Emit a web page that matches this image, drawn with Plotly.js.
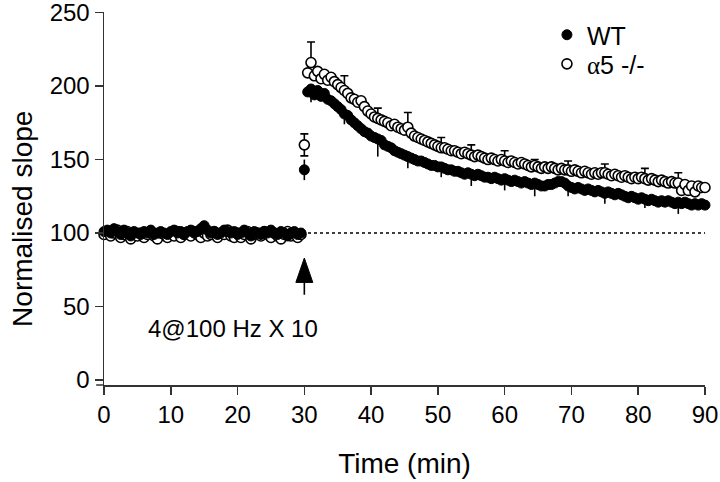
<!DOCTYPE html>
<html>
<head>
<meta charset="utf-8">
<script src="https://cdn.plot.ly/plotly-3.0.1.min.js"></script>
<style>html,body{margin:0;padding:0;background:#fff;}#chart{width:720px;height:482px;}</style>
</head>
<body>
<div id="chart"></div>
<script>
// Time points (min)
var timeMin = [
0,0.5,1,1.5,2,2.5,3,3.5,4,4.5,
5,5.5,6,6.5,7,7.5,8,8.5,9,9.5,
10,10.5,11,11.5,12,12.5,13,13.5,14,14.5,
15,15.5,16,16.5,17,17.5,18,18.5,19,19.5,
20,20.5,21,21.5,22,22.5,23,23.5,24,24.5,
25,25.5,26,26.5,27,27.5,28,28.5,29,29.5,
30,30.5,31,31.5,32,32.5,33,33.5,34,34.5,
35,35.5,36,36.5,37,37.5,38,38.5,39,39.5,
40,40.5,41,41.5,42,42.5,43,43.5,44,44.5,
45,45.5,46,46.5,47,47.5,48,48.5,49,49.5,
50,50.5,51,51.5,52,52.5,53,53.5,54,54.5,
55,55.5,56,56.5,57,57.5,58,58.5,59,59.5,
60,60.5,61,61.5,62,62.5,63,63.5,64,64.5,
65,65.5,66,66.5,67,67.5,68,68.5,69,69.5,
70,70.5,71,71.5,72,72.5,73,73.5,74,74.5,
75,75.5,76,76.5,77,77.5,78,78.5,79,79.5,
80,80.5,81,81.5,82,82.5,83,83.5,84,84.5,
85,85.5,86,86.5,87,87.5,88,88.5,89,89.5,
90];

// WT normalised slope (%)
var wtSlope = [
101,102,100,103,101,99,102,100,98,101,
100,99,101,100,102,99,100,101,100,99,
101,102,100,101,99,101,102,100,101,103,
105,102,100,101,99,100,102,101,100,101,
99,100,102,100,98,101,100,99,101,100,
102,100,99,101,100,98,100,101,99,100,
143,196,198,194,197,193,195,191,190,188,
186,184,181,180,177,175,173,171,169,168,
166,165,164,163,160,159,158,156,155,154,
153,152,151,150,149,149,148,147,146,146,
145,145,144,143,143,142,142,141,140,141,
140,139,140,139,138,138,137,138,137,136,
137,136,135,136,135,134,135,134,133,134,
133,132,132,133,133,134,135,135,134,132,
131,130,131,130,129,130,129,128,129,128,
127,128,127,126,127,126,125,124,125,124,
123,124,123,122,123,122,121,122,121,122,
121,120,121,120,121,120,119,120,119,120,
119];

// alpha5 -/- normalised slope (%)
var a5Slope = [
99,101,98,100,102,97,99,101,96,100,
98,100,97,99,101,98,96,100,99,97,
100,98,101,97,99,100,98,101,99,97,
100,98,99,101,97,100,99,102,98,97,
100,97,99,101,96,99,100,98,101,99,
97,100,98,96,99,101,98,100,97,99,
160,209,216,207,210,205,208,204,206,203,
201,199,197,195,192,191,189,190,186,183,
181,179,178,177,176,175,173,174,172,171,
170,172,168,166,165,164,163,162,161,160,
159,158,158,157,156,156,155,154,155,154,
153,152,153,152,151,150,151,150,149,150,
149,148,149,148,147,148,147,146,145,146,
145,144,145,144,145,144,143,144,143,143,
142,143,142,141,142,141,140,141,140,141,
141,140,139,140,139,138,139,138,137,138,
137,138,137,136,137,136,135,136,135,134,
135,134,134,129,133,129,132,128,132,131,
131];

// SEM shown at selected time points
var semTimes = [30,31,36,41,45.5,50.5,55,60,64.5,69.5,75,81,86];
var semA5   = [7.5,14,10,7,10,7,7,7,4,6,6,7,7];
var semWT   = [7,9,7,12,8,7,8,8,9,7,7,6,8];

var seriesNames = ['WT', '<span style="font-family:Liberation Serif,Times New Roman,serif">\u03b1</span>5 -/-'];
var xTicks = [0,10,20,30,40,50,60,70,80,90];
var yTicks = [0,50,100,150,200,250];
var stimLabel = '4@100 Hz X 10';
var xTitle = 'Time (min)';
var yTitle = 'Normalised slope';
var stimTime = 30;

// build error arrays
function semAt(t, vals){ var k = semTimes.indexOf(t); return k < 0 ? null : vals[k]; }
var a5Plus = [], a5Minus = [], wtPlus = [], wtMinus = [];
timeMin.forEach(function(t){
  var sa = semAt(t, semA5), sw = semAt(t, semWT);
  if (sa === null) { a5Plus.push(NaN); a5Minus.push(NaN); }
  else { a5Plus.push(sa); a5Minus.push(t === stimTime ? sa : 0); }
  if (sw === null) { wtPlus.push(NaN); wtMinus.push(NaN); }
  else { wtMinus.push(sw); wtPlus.push(t === stimTime ? sw : 0); }
});

var FONT = 'Liberation Sans, Arial, Helvetica, sans-serif';

var traces = [
  {
    x: timeMin, y: a5Slope, name: seriesNames[1], type: 'scatter', mode: 'markers',
    cliponaxis: false, legend: 'legend2',
    marker: {symbol: 'circle', size: 10, color: '#ffffff', line: {color: '#000', width: 1.6}},
    error_y: {type: 'data', symmetric: false, array: a5Plus, arrayminus: a5Minus,
              color: '#000', thickness: 1.6, width: 4}
  },
  {
    x: timeMin, y: wtSlope, name: seriesNames[0], type: 'scatter', mode: 'markers',
    cliponaxis: false, legend: 'legend',
    marker: {symbol: 'circle', size: 10, color: '#000000', line: {color: '#000', width: 1}},
    error_y: {type: 'data', symmetric: false, array: wtPlus, arrayminus: wtMinus,
              color: '#000', thickness: 1.6, width: 0}
  }
];

var legendFont = {family: FONT, size: 25, color: '#000'};
var layout = {
  width: 720, height: 482,
  margin: {l: 104, r: 15, t: 12, b: 97},
  paper_bgcolor: '#fff', plot_bgcolor: '#fff',
  font: {family: FONT, color: '#000', size: 24},
  showlegend: true,
  legend: {x: 0.737, y: 1.0, xanchor: 'left', yanchor: 'top',
           font: legendFont, bgcolor: 'rgba(0,0,0,0)'},
  legend2: {x: 0.737, y: 0.922, xanchor: 'left', yanchor: 'top',
           font: legendFont, bgcolor: 'rgba(0,0,0,0)'},
  xaxis: {
    range: [0, 90], tickvals: xTicks, ticktext: xTicks.map(String),
    ticks: 'outside', ticklen: 8, tickwidth: 1.5, tickcolor: '#333',
    showline: true, linewidth: 1.5, linecolor: '#333',
    showgrid: false, zeroline: false, ticklabeloverflow: 'allow',
    tickfont: {family: FONT, size: 24, color: '#000'},
    title: {text: xTitle, font: {family: FONT, size: 28, color: '#000'}, standoff: 26}
  },
  yaxis: {
    range: [-3.4, 250.4], tickvals: yTicks, ticktext: yTicks.map(String),
    ticks: 'outside', ticklen: 8, tickwidth: 1.5, tickcolor: '#333',
    showline: true, linewidth: 1.5, linecolor: '#333',
    showgrid: false, zeroline: false, ticklabeloverflow: 'allow',
    tickfont: {family: FONT, size: 24, color: '#000'}
  },
  shapes: [
    {type: 'line', xref: 'x', yref: 'y', x0: 0, x1: 90, y0: 100, y1: 100, layer: 'below',
     line: {color: '#000', width: 1.6, dash: 'dot'}},
    {type: 'line', xref: 'paper', yref: 'paper', x0: -0.013, x1: 0, y0: 0, y1: 0,
     line: {color: '#333', width: 1.5}},
    {type: 'line', xref: 'x', yref: 'y', x0: stimTime, x1: stimTime, y0: 58, y1: 67,
     line: {color: '#000', width: 1.6}},
    {type: 'path', xref: 'x', yref: 'y',
     path: 'M' + (stimTime - 1.27) + ',66.4 L' + (stimTime + 1.27) + ',66.4 L' + stimTime + ',83 Z',
     fillcolor: '#000', line: {color: '#000', width: 1}}
  ],
  annotations: [
    {x: 19.3, y: 35, xref: 'x', yref: 'y', text: stimLabel, showarrow: false,
     font: {family: FONT, size: 24, color: '#000'}},
    {x: -0.136, y: 0.446, xref: 'paper', yref: 'paper', text: yTitle, showarrow: false,
     textangle: -90, xanchor: 'center', yanchor: 'middle',
     font: {family: FONT, size: 28, color: '#000'}}
  ]
};

Plotly.newPlot('chart', traces, layout, {staticPlot: true, displayModeBar: false});
</script>
</body>
</html>
